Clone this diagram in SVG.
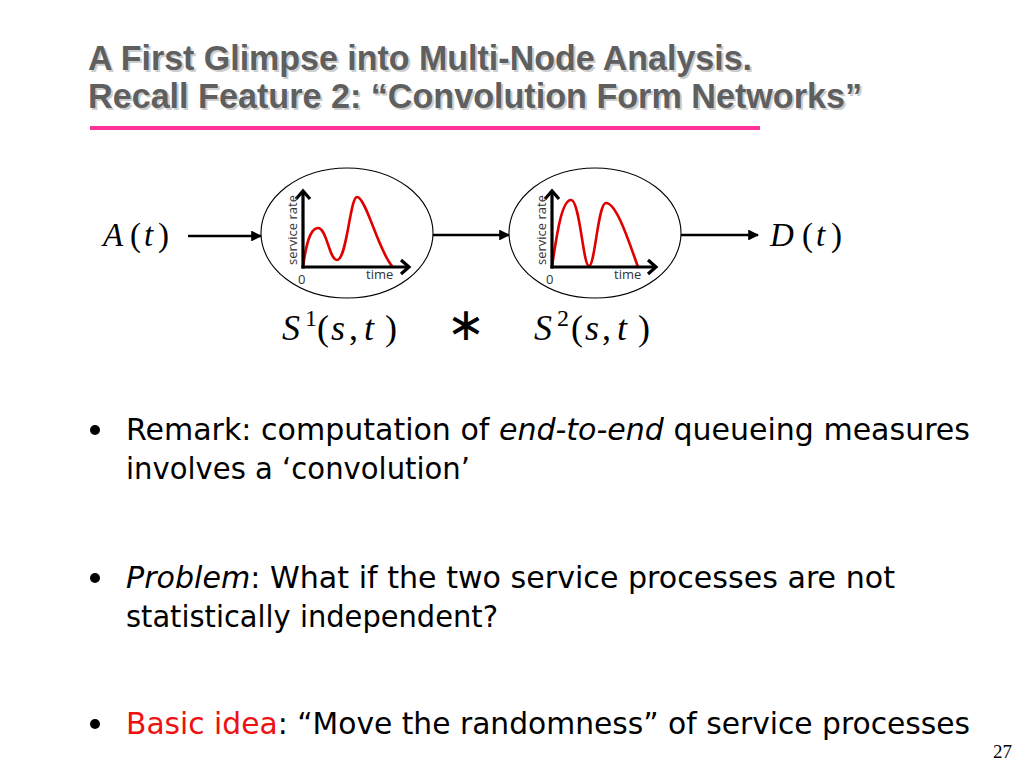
<svg xmlns="http://www.w3.org/2000/svg" width="1024" height="768" viewBox="0 0 1024 768">
<defs>
<style>
.title{font-family:"Liberation Sans",Arial,sans-serif;font-weight:bold;font-size:35px}
.tmain{fill:#5f5f5f}
.tshadow{fill:#cdcdcd}
.math{font-family:"Liberation Serif","Times New Roman",serif;fill:#000}
.it{font-style:italic}
.body{font-family:"DejaVu Sans",Tahoma,sans-serif;font-size:31px;fill:#000}
.ax{fill:none;stroke:#000;stroke-width:3.2;stroke-linecap:butt}
.chev{fill:none;stroke:#000;stroke-width:3.2;stroke-linejoin:miter}
.curve{fill:none;stroke:#e00000;stroke-width:2.6;stroke-linecap:round}
.lbl{font-family:"Open Sans","Liberation Sans",sans-serif;font-size:13px;fill:#333}
.conn{stroke:#000;stroke-width:2.6;fill:none}
.ell{fill:#fff;stroke:#000;stroke-width:1.1}
</style>
<marker id="arr" viewBox="0 0 10 10" refX="9" refY="5" markerWidth="4.2" markerHeight="4.2" orient="auto" markerUnits="strokeWidth">
<path d="M0,0 L10,5 L0,10 Z" fill="#000"/>
</marker>
</defs>
<rect width="1024" height="768" fill="#fff"/>

<g id="title">
<text class="title tshadow" x="90" y="72" textLength="664" lengthAdjust="spacingAndGlyphs">A First Glimpse into Multi-Node Analysis.</text>
<text class="title tshadow" x="90" y="110" textLength="774" lengthAdjust="spacingAndGlyphs">Recall Feature 2: “Convolution Form Networks”</text>
<text class="title tmain" x="88" y="70" textLength="664" lengthAdjust="spacingAndGlyphs">A First Glimpse into Multi-Node Analysis.</text>
<text class="title tmain" x="88" y="108" textLength="774" lengthAdjust="spacingAndGlyphs">Recall Feature 2: “Convolution Form Networks”</text>
<line x1="90" y1="128" x2="760" y2="128" stroke="#ff3399" stroke-width="4"/>
</g>

<g id="connectors">
<line class="conn" x1="188" y1="236" x2="261" y2="236" marker-end="url(#arr)"/>
<line class="conn" x1="433" y1="235" x2="509" y2="235" marker-end="url(#arr)"/>
<line class="conn" x1="681" y1="235" x2="758" y2="235" marker-end="url(#arr)"/>
</g>

<g id="input">
<text class="math" font-size="33" y="246"><tspan class="it" x="103">A</tspan><tspan x="130">(</tspan><tspan class="it" x="144">t</tspan><tspan x="158">)</tspan></text>
</g>

<g id="node1">
<ellipse class="ell" cx="347" cy="233" rx="86" ry="65"/>
<path class="curve" d="M303,267 C306,245 310,228 318,228 C327,228 329,260 337,260 C347,260 350,197 357,197 C366,197 378,250 392,266"/>
<line class="ax" x1="303" y1="268.5" x2="303" y2="192"/>
<path class="chev" d="M296,199 L303,191 L310,199"/>
<line class="ax" x1="301.5" y1="267" x2="408" y2="267"/>
<path class="chev" d="M401,260 L409,267 L401,274"/>
<text class="lbl" transform="translate(297,230) rotate(-90)" text-anchor="middle">service rate</text>
<text class="lbl" x="298" y="284">0</text>
<text class="lbl" x="366" y="279">time</text>
<text class="math" font-size="36" y="340"><tspan class="it" x="282">S</tspan><tspan font-size="24" x="305" dy="-14">1</tspan><tspan x="317" dy="14">(</tspan><tspan class="it" x="331">s</tspan><tspan x="349">,</tspan><tspan class="it" x="364">t</tspan><tspan x="385">)</tspan></text>
</g>

<g id="conv">
<text x="466" y="340" font-family="DejaVu Sans,sans-serif" font-size="46" text-anchor="middle">∗</text>
</g>

<g id="node2">
<ellipse class="ell" cx="595" cy="233" rx="86" ry="65"/>
<path class="curve" d="M552,267 C557,232 562,200 571,200 C580,200 583,266 589,266 C595,266 598,203 606,203 C617,203 630,245 638,267"/>
<line class="ax" x1="552" y1="268.5" x2="552" y2="192"/>
<path class="chev" d="M545,199 L552,191 L559,199"/>
<line class="ax" x1="550.5" y1="267" x2="655" y2="267"/>
<path class="chev" d="M648,260 L656,267 L648,274"/>
<text class="lbl" transform="translate(546,230) rotate(-90)" text-anchor="middle">service rate</text>
<text class="lbl" x="546" y="284">0</text>
<text class="lbl" x="614" y="279">time</text>
<text class="math" font-size="36" y="340"><tspan class="it" x="534">S</tspan><tspan font-size="24" x="557" dy="-14">2</tspan><tspan x="571" dy="14">(</tspan><tspan class="it" x="585">s</tspan><tspan x="602">,</tspan><tspan class="it" x="617">t</tspan><tspan x="638">)</tspan></text>
</g>

<g id="output">
<text class="math" font-size="33" y="246"><tspan class="it" x="770">D</tspan><tspan x="802">(</tspan><tspan class="it" x="816">t</tspan><tspan x="831">)</tspan></text>
</g>

<g id="bullets">
<circle cx="95" cy="430" r="5"/>
<text class="body" x="126" y="440" textLength="844" lengthAdjust="spacingAndGlyphs">Remark: computation of <tspan font-style="italic">end-to-end</tspan> queueing measures</text>
<text class="body" x="126" y="479" textLength="344" lengthAdjust="spacingAndGlyphs">involves a ‘convolution’</text>
<circle cx="95" cy="578" r="5"/>
<text class="body" x="126" y="588" textLength="769" lengthAdjust="spacingAndGlyphs"><tspan font-style="italic">Problem</tspan>: What if the two service processes are not</text>
<text class="body" x="126" y="627" textLength="372" lengthAdjust="spacingAndGlyphs">statistically independent?</text>
<circle cx="95" cy="724" r="5"/>
<text class="body" x="126" y="734" textLength="844" lengthAdjust="spacingAndGlyphs"><tspan fill="#ee1111">Basic idea</tspan>: “Move the randomness” of service processes</text>
<text x="1012" y="758" font-family="Liberation Serif,serif" font-size="19" text-anchor="end">27</text>
</g>
</svg>
